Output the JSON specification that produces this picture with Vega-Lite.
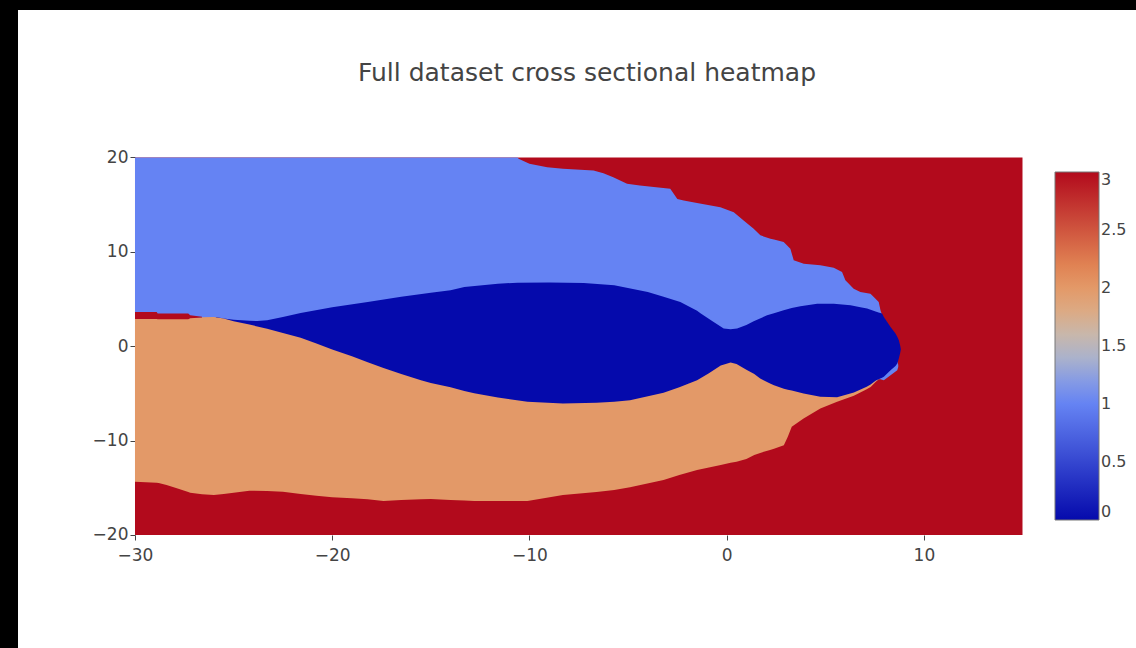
{
  "$schema": "https://vega.github.io/schema/vega-lite/v6.json",
  "width": 1118,
  "height": 638,
  "autosize": "none",
  "padding": {"left": 18, "top": 10, "right": 0, "bottom": 0},
  "background": "black",
  "config": {"view": {"fill": "white", "stroke": null}, "font": "DejaVu Sans"},
  "title": {"text": "Full dataset cross sectional heatmap", "font": "DejaVu Sans", "fontSize": 25, "fontWeight": "normal", "color": "#444", "anchor": "middle", "frame": "group", "offset": -96, "baseline": "alphabetic", "dx": 10},
  "data": {"values": [
    {"r": "bg", "x": -30, "x2": 15, "lo": -20, "hi": 20, "v": 3},
    {"r": "lb", "x": -30, "lo": -9, "hi": 20, "v": 1},
    {"r": "lb", "x": -10.6, "lo": -9, "hi": 20, "v": 1},
    {"r": "lb", "x": -10.55, "lo": -9, "hi": 19.86, "v": 1},
    {"r": "lb", "x": -10.0, "lo": -9, "hi": 19.33, "v": 1},
    {"r": "lb", "x": -9.1, "lo": -9, "hi": 18.97, "v": 1},
    {"r": "lb", "x": -8.3, "lo": -9, "hi": 18.8, "v": 1},
    {"r": "lb", "x": -6.75, "lo": -9, "hi": 18.62, "v": 1},
    {"r": "lb", "x": -6.25, "lo": -9, "hi": 18.34, "v": 1},
    {"r": "lb", "x": -5.75, "lo": -9, "hi": 17.92, "v": 1},
    {"r": "lb", "x": -5.05, "lo": -9, "hi": 17.22, "v": 1},
    {"r": "lb", "x": -4.4, "lo": -9, "hi": 17.04, "v": 1},
    {"r": "lb", "x": -2.86, "lo": -9, "hi": 16.69, "v": 1},
    {"r": "lb", "x": -2.5, "lo": -9, "hi": 15.6, "v": 1},
    {"r": "lb", "x": -2.18, "lo": -9, "hi": 15.45, "v": 1},
    {"r": "lb", "x": -1.5, "lo": -9, "hi": 15.17, "v": 1},
    {"r": "lb", "x": -0.32, "lo": -9, "hi": 14.74, "v": 1},
    {"r": "lb", "x": 0.36, "lo": -9, "hi": 14.21, "v": 1},
    {"r": "lb", "x": 0.86, "lo": -9, "hi": 13.33, "v": 1},
    {"r": "lb", "x": 1.37, "lo": -9, "hi": 12.45, "v": 1},
    {"r": "lb", "x": 1.71, "lo": -9, "hi": 11.75, "v": 1},
    {"r": "lb", "x": 2.22, "lo": -9, "hi": 11.4, "v": 1},
    {"r": "lb", "x": 2.4, "lo": -9, "hi": 11.3, "v": 1},
    {"r": "lb", "x": 2.89, "lo": -7.5, "hi": 11.04, "v": 1},
    {"r": "lb", "x": 3.23, "lo": -6.8, "hi": 10.34, "v": 1},
    {"r": "lb", "x": 3.4, "lo": -6.55, "hi": 9.1, "v": 1},
    {"r": "lb", "x": 3.91, "lo": -6.33, "hi": 8.75, "v": 1},
    {"r": "lb", "x": 4.75, "lo": -5.98, "hi": 8.57, "v": 1},
    {"r": "lb", "x": 5.43, "lo": -5.72, "hi": 8.33, "v": 1},
    {"r": "lb", "x": 5.85, "lo": -5.48, "hi": 7.87, "v": 1},
    {"r": "lb", "x": 6.02, "lo": -5.4, "hi": 6.98, "v": 1},
    {"r": "lb", "x": 6.44, "lo": -5.08, "hi": 6.1, "v": 1},
    {"r": "lb", "x": 6.78, "lo": -4.75, "hi": 5.75, "v": 1},
    {"r": "lb", "x": 7.29, "lo": -4.2, "hi": 5.57, "v": 1},
    {"r": "lb", "x": 7.46, "lo": -3.9, "hi": 5.22, "v": 1},
    {"r": "lb", "x": 7.71, "lo": -3.5, "hi": 4.69, "v": 1},
    {"r": "lb", "x": 7.8, "lo": -3.5, "hi": 3.81, "v": 1},
    {"r": "lb", "x": 7.88, "lo": -3.55, "hi": 3.3, "v": 1},
    {"r": "lb", "x": 7.97, "lo": -3.6, "hi": 3.0, "v": 1},
    {"r": "lb", "x": 8.31, "lo": -3.07, "hi": 1.9, "v": 1},
    {"r": "lb", "x": 8.65, "lo": -2.54, "hi": -1.5, "v": 1},
    {"r": "lb", "x": 8.7, "lo": -2.2, "hi": -2.0, "v": 1},
    {"r": "db", "x": -25.9, "lo": 3.06, "hi": 3.1, "v": 0},
    {"r": "db", "x": -25.5, "lo": -9, "hi": 2.95, "v": 0},
    {"r": "db", "x": -25, "lo": -9, "hi": 2.8, "v": 0},
    {"r": "db", "x": -24.2, "lo": -9, "hi": 2.7, "v": 0},
    {"r": "db", "x": -23.8, "lo": -9, "hi": 2.68, "v": 0},
    {"r": "db", "x": -23.3, "lo": -9, "hi": 2.75, "v": 0},
    {"r": "db", "x": -22.5, "lo": -9, "hi": 3.1, "v": 0},
    {"r": "db", "x": -21.6, "lo": -9, "hi": 3.52, "v": 0},
    {"r": "db", "x": -20, "lo": -9, "hi": 4.12, "v": 0},
    {"r": "db", "x": -18.2, "lo": -9, "hi": 4.7, "v": 0},
    {"r": "db", "x": -16.5, "lo": -9, "hi": 5.24, "v": 0},
    {"r": "db", "x": -15, "lo": -9, "hi": 5.68, "v": 0},
    {"r": "db", "x": -14, "lo": -9, "hi": 5.93, "v": 0},
    {"r": "db", "x": -13.3, "lo": -9, "hi": 6.28, "v": 0},
    {"r": "db", "x": -11.6, "lo": -9, "hi": 6.63, "v": 0},
    {"r": "db", "x": -10.6, "lo": -9, "hi": 6.74, "v": 0},
    {"r": "db", "x": -9, "lo": -9, "hi": 6.76, "v": 0},
    {"r": "db", "x": -7.25, "lo": -9, "hi": 6.7, "v": 0},
    {"r": "db", "x": -5.7, "lo": -9, "hi": 6.46, "v": 0},
    {"r": "db", "x": -4.0, "lo": -9, "hi": 5.75, "v": 0},
    {"r": "db", "x": -3.2, "lo": -9, "hi": 5.25, "v": 0},
    {"r": "db", "x": -2.35, "lo": -9, "hi": 4.69, "v": 0},
    {"r": "db", "x": -1.5, "lo": -9, "hi": 3.75, "v": 0},
    {"r": "db", "x": -1.33, "lo": -9, "hi": 3.5, "v": 0},
    {"r": "db", "x": -0.66, "lo": -9, "hi": 2.57, "v": 0},
    {"r": "db", "x": -0.15, "lo": -9, "hi": 1.87, "v": 0},
    {"r": "db", "x": 0.2, "lo": -9, "hi": 1.8, "v": 0},
    {"r": "db", "x": 0.53, "lo": -9, "hi": 1.87, "v": 0},
    {"r": "db", "x": 1.0, "lo": -9, "hi": 2.25, "v": 0},
    {"r": "db", "x": 1.37, "lo": -9, "hi": 2.65, "v": 0},
    {"r": "db", "x": 2.05, "lo": -9, "hi": 3.28, "v": 0},
    {"r": "db", "x": 2.4, "lo": -9, "hi": 3.5, "v": 0},
    {"r": "db", "x": 2.89, "lo": -7.5, "hi": 3.81, "v": 0},
    {"r": "db", "x": 3.3, "lo": -6.62, "hi": 4.05, "v": 0},
    {"r": "db", "x": 3.74, "lo": -6.4, "hi": 4.23, "v": 0},
    {"r": "db", "x": 4.59, "lo": -6.05, "hi": 4.51, "v": 0},
    {"r": "db", "x": 5.43, "lo": -5.72, "hi": 4.51, "v": 0},
    {"r": "db", "x": 6.28, "lo": -5.2, "hi": 4.34, "v": 0},
    {"r": "db", "x": 6.78, "lo": -4.75, "hi": 4.12, "v": 0},
    {"r": "db", "x": 7.12, "lo": -4.43, "hi": 3.99, "v": 0},
    {"r": "db", "x": 7.55, "lo": -3.72, "hi": 3.69, "v": 0},
    {"r": "db", "x": 7.7, "lo": -3.5, "hi": 3.58, "v": 0},
    {"r": "db", "x": 7.88, "lo": -3.35, "hi": 3.46, "v": 0},
    {"r": "db", "x": 7.97, "lo": -3.24, "hi": 3.1, "v": 0},
    {"r": "db", "x": 8.31, "lo": -2.54, "hi": 2.04, "v": 0},
    {"r": "db", "x": 8.56, "lo": -2.1, "hi": 1.34, "v": 0},
    {"r": "db", "x": 8.65, "lo": -1.83, "hi": 1.0, "v": 0},
    {"r": "db", "x": 8.73, "lo": -1.3, "hi": 0.63, "v": 0},
    {"r": "db", "x": 8.8, "lo": -0.7, "hi": 0.05, "v": 0},
    {"r": "db", "x": 8.83, "lo": -0.35, "hi": -0.3, "v": 0},
    {"r": "or", "x": -30, "lo": -14.36, "hi": 2.93, "v": 2},
    {"r": "or", "x": -28.9, "lo": -14.47, "hi": 2.93, "v": 2},
    {"r": "or", "x": -28.8, "lo": -14.5, "hi": 2.88, "v": 2},
    {"r": "or", "x": -28.4, "lo": -14.7, "hi": 2.88, "v": 2},
    {"r": "or", "x": -27.8, "lo": -15.1, "hi": 2.88, "v": 2},
    {"r": "or", "x": -27.3, "lo": -15.45, "hi": 2.9, "v": 2},
    {"r": "or", "x": -27.2, "lo": -15.52, "hi": 3.0, "v": 2},
    {"r": "or", "x": -26.6, "lo": -15.68, "hi": 3.08, "v": 2},
    {"r": "or", "x": -26, "lo": -15.77, "hi": 3.1, "v": 2},
    {"r": "or", "x": -25.5, "lo": -15.65, "hi": 2.93, "v": 2},
    {"r": "or", "x": -25, "lo": -15.52, "hi": 2.65, "v": 2},
    {"r": "or", "x": -24.2, "lo": -15.31, "hi": 2.3, "v": 2},
    {"r": "or", "x": -23.3, "lo": -15.35, "hi": 1.85, "v": 2},
    {"r": "or", "x": -22.5, "lo": -15.42, "hi": 1.4, "v": 2},
    {"r": "or", "x": -21.6, "lo": -15.66, "hi": 0.9, "v": 2},
    {"r": "or", "x": -20.8, "lo": -15.85, "hi": 0.3, "v": 2},
    {"r": "or", "x": -20, "lo": -16.0, "hi": -0.35, "v": 2},
    {"r": "or", "x": -19, "lo": -16.1, "hi": -1.05, "v": 2},
    {"r": "or", "x": -18.2, "lo": -16.22, "hi": -1.7, "v": 2},
    {"r": "or", "x": -17.4, "lo": -16.4, "hi": -2.3, "v": 2},
    {"r": "or", "x": -16.5, "lo": -16.3, "hi": -2.93, "v": 2},
    {"r": "or", "x": -15.5, "lo": -16.2, "hi": -3.6, "v": 2},
    {"r": "or", "x": -15, "lo": -16.19, "hi": -3.9, "v": 2},
    {"r": "or", "x": -14, "lo": -16.3, "hi": -4.35, "v": 2},
    {"r": "or", "x": -13.3, "lo": -16.35, "hi": -4.75, "v": 2},
    {"r": "or", "x": -12.8, "lo": -16.4, "hi": -4.98, "v": 2},
    {"r": "or", "x": -11.6, "lo": -16.4, "hi": -5.43, "v": 2},
    {"r": "or", "x": -10.1, "lo": -16.4, "hi": -5.87, "v": 2},
    {"r": "or", "x": -8.3, "lo": -15.77, "hi": -6.06, "v": 2},
    {"r": "or", "x": -6.6, "lo": -15.45, "hi": -6.0, "v": 2},
    {"r": "or", "x": -5.7, "lo": -15.24, "hi": -5.88, "v": 2},
    {"r": "or", "x": -4.9, "lo": -14.95, "hi": -5.71, "v": 2},
    {"r": "or", "x": -3.2, "lo": -14.18, "hi": -4.94, "v": 2},
    {"r": "or", "x": -2.4, "lo": -13.65, "hi": -4.35, "v": 2},
    {"r": "or", "x": -1.5, "lo": -13.12, "hi": -3.6, "v": 2},
    {"r": "or", "x": -0.9, "lo": -12.85, "hi": -2.85, "v": 2},
    {"r": "or", "x": -0.3, "lo": -12.59, "hi": -2.05, "v": 2},
    {"r": "or", "x": 0.2, "lo": -12.35, "hi": -1.72, "v": 2},
    {"r": "or", "x": 0.5, "lo": -12.24, "hi": -1.88, "v": 2},
    {"r": "or", "x": 1.0, "lo": -11.95, "hi": -2.5, "v": 2},
    {"r": "or", "x": 1.4, "lo": -11.53, "hi": -2.95, "v": 2},
    {"r": "or", "x": 1.7, "lo": -11.3, "hi": -3.42, "v": 2},
    {"r": "or", "x": 2.2, "lo": -11.0, "hi": -3.95, "v": 2},
    {"r": "or", "x": 2.4, "lo": -10.85, "hi": -4.13, "v": 2},
    {"r": "or", "x": 2.9, "lo": -10.48, "hi": -4.5, "v": 2},
    {"r": "or", "x": 3.1, "lo": -9.6, "hi": -4.6, "v": 2},
    {"r": "or", "x": 3.3, "lo": -8.54, "hi": -4.7, "v": 2},
    {"r": "or", "x": 3.9, "lo": -7.65, "hi": -5.01, "v": 2},
    {"r": "or", "x": 4.75, "lo": -6.6, "hi": -5.36, "v": 2},
    {"r": "or", "x": 5.6, "lo": -5.89, "hi": -5.4, "v": 2},
    {"r": "or", "x": 6.45, "lo": -5.25, "hi": -4.9, "v": 2},
    {"r": "or", "x": 7.1, "lo": -4.55, "hi": -4.3, "v": 2},
    {"r": "or", "x": 7.3, "lo": -4.31, "hi": -4.05, "v": 2},
    {"r": "or", "x": 7.55, "lo": -3.78, "hi": -3.65, "v": 2},
    {"r": "or", "x": 7.7, "lo": -3.5, "hi": -3.5, "v": 2},
    {"r": "sl", "x": -30, "lo": 2.9, "hi": 3.63, "v": 3},
    {"r": "sl", "x": -28.9, "lo": 2.9, "hi": 3.63, "v": 3},
    {"r": "sl", "x": -28.85, "lo": 2.85, "hi": 3.46, "v": 3},
    {"r": "sl", "x": -27.3, "lo": 2.87, "hi": 3.46, "v": 3},
    {"r": "sl", "x": -27.2, "lo": 2.97, "hi": 3.28, "v": 3},
    {"r": "sl", "x": -26.6, "lo": 3.05, "hi": 3.12, "v": 3}
  ]},
  "encoding": {
    "x": {"field": "x", "type": "quantitative",
      "scale": {"domain": [-35.932, 20.755], "nice": false, "zero": false},
      "axis": {"values": [-30, -20, -10, 0, 10], "offset": -113, "domain": false, "grid": false, "ticks": true, "tickSize": 5, "tickColor": "#444", "tickWidth": 1, "labelFont": "DejaVu Sans", "labelFontSize": 17, "labelColor": "#444", "labelPadding": 7, "title": null, "labelFlush": false, "labelOverlap": false}},
    "y": {"field": "lo", "type": "quantitative", "stack": null,
      "scale": {"domain": [-31.974, 35.629], "nice": false, "zero": false},
      "axis": {"values": [-20, -10, 0, 10, 20], "offset": -117, "domain": false, "grid": false, "ticks": true, "tickSize": 5, "tickColor": "#444", "tickWidth": 1, "labelFont": "DejaVu Sans", "labelFontSize": 17, "labelColor": "#444", "labelPadding": 2, "title": null, "labelFlush": false, "labelOverlap": false}},
    "y2": {"field": "hi"},
    "color": {"field": "v", "type": "quantitative",
      "scale": {"type": "linear", "domain": [0, 1.05, 1.5, 1.8, 2.1, 3], "range": ["rgb(5,10,172)", "rgb(106,137,247)", "rgb(190,190,190)", "rgb(220,170,132)", "rgb(230,145,90)", "rgb(178,10,28)"], "interpolate": "rgb"},
      "legend": {"orient": "none", "legendX": 1037, "legendY": 162, "direction": "vertical", "gradientLength": 348, "gradientThickness": 44, "title": null, "values": [0, 0.5, 1, 1.5, 2, 2.5, 3], "format": "~g", "labelFont": "DejaVu Sans", "labelFontSize": 16, "labelColor": "#444", "labelOffset": 2, "labelBaseline": "top", "labelOverlap": false, "gradientStrokeColor": "#777", "gradientStrokeWidth": 1, "padding": 0}}
  },
  "layer": [
    {"transform": [{"filter": "datum.r == 'bg'"}], "mark": {"type": "rect"}, "encoding": {"x2": {"field": "x2"}}},
    {"transform": [{"filter": "datum.r == 'lb'"}], "mark": {"type": "area", "opacity": 1}},
    {"transform": [{"filter": "datum.r == 'db'"}], "mark": {"type": "area", "opacity": 1}},
    {"transform": [{"filter": "datum.r == 'or'"}], "mark": {"type": "area", "opacity": 1}},
    {"transform": [{"filter": "datum.r == 'sl'"}], "mark": {"type": "area", "opacity": 1}}
  ]
}
